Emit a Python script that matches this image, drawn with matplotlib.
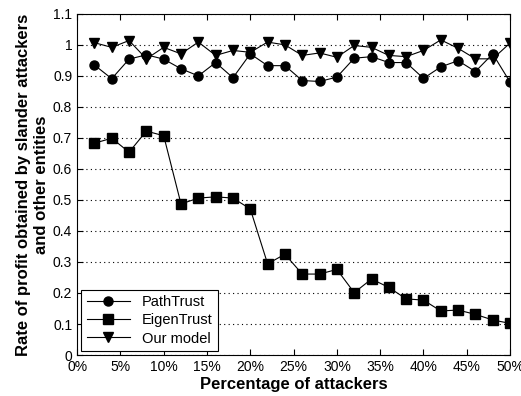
import matplotlib
matplotlib.use("Agg")
import matplotlib.pyplot as plt
from matplotlib.ticker import FuncFormatter

# Percentage of attackers (%)
attackers = [2, 4, 6, 8, 10, 12, 14, 16, 18, 20, 22, 24, 26, 28, 30,
             32, 34, 36, 38, 40, 42, 44, 46, 48, 50]

path_trust = [0.935, 0.891, 0.954, 0.968, 0.954, 0.923, 0.900, 0.943, 0.894, 0.971,
              0.933, 0.933, 0.885, 0.882, 0.896, 0.957, 0.962, 0.943, 0.943, 0.892,
              0.929, 0.949, 0.914, 0.971, 0.880]

eigen_trust = [0.683, 0.699, 0.654, 0.722, 0.707, 0.487, 0.506, 0.510, 0.506, 0.471,
               0.294, 0.325, 0.261, 0.261, 0.276, 0.201, 0.245, 0.218, 0.181, 0.177,
               0.142, 0.145, 0.131, 0.113, 0.102]

our_model = [1.007, 0.992, 1.014, 0.955, 0.992, 0.971, 1.009, 0.966, 0.982, 0.976,
             1.009, 1.000, 0.966, 0.974, 0.960, 0.998, 0.992, 0.966, 0.962, 0.982,
             1.016, 0.989, 0.955, 0.955, 1.006]

plt.rcParams['font.family'] = ['Liberation Sans', 'DejaVu Sans']

fig = plt.figure(figsize=(5.21, 3.96), dpi=100)
ax = fig.add_axes([0.148, 0.1035, 0.831, 0.8615])

ax.plot(attackers, path_trust, '-o', color='black', lw=0.8, ms=6.5, label='PathTrust')
ax.plot(attackers, eigen_trust, '-s', color='black', lw=0.8, ms=6.5, label='EigenTrust')
ax.plot(attackers, our_model, '-v', color='black', lw=0.8, ms=7.5, label='Our model')

ax.set_xlim(0, 50)
ax.set_ylim(0, 1.1)
ax.set_xticks(range(0, 51, 5))
ax.xaxis.set_major_formatter(FuncFormatter(lambda v, p: f"{int(v)}%"))
ax.set_yticks([i / 10 for i in range(12)])
ax.set_yticklabels(['0', '0.1', '0.2', '0.3', '0.4', '0.5', '0.6', '0.7',
                    '0.8', '0.9', '1', '1.1'])
ax.tick_params(direction='in', top=True, right=True, labelsize=10, length=4, width=0.8)
ax.yaxis.grid(True, linestyle=(0, (1, 3)), color='black', lw=0.8)

for s in ax.spines.values():
    s.set_linewidth(0.8)

ax.set_xlabel('Percentage of attackers', fontsize=12, fontweight='bold', labelpad=2)
ax.set_ylabel('Rate of profit obtained by slander attackers\nand other entities',
              fontsize=12, fontweight='bold', labelpad=3)

leg = ax.legend(loc='lower left', fontsize=10.5, fancybox=False, framealpha=1,
                edgecolor='black', borderaxespad=0.3, handlelength=3,
                labelspacing=0.3, borderpad=0.35)
leg.get_frame().set_linewidth(0.8)

fig.savefig('out.png', dpi=100)
